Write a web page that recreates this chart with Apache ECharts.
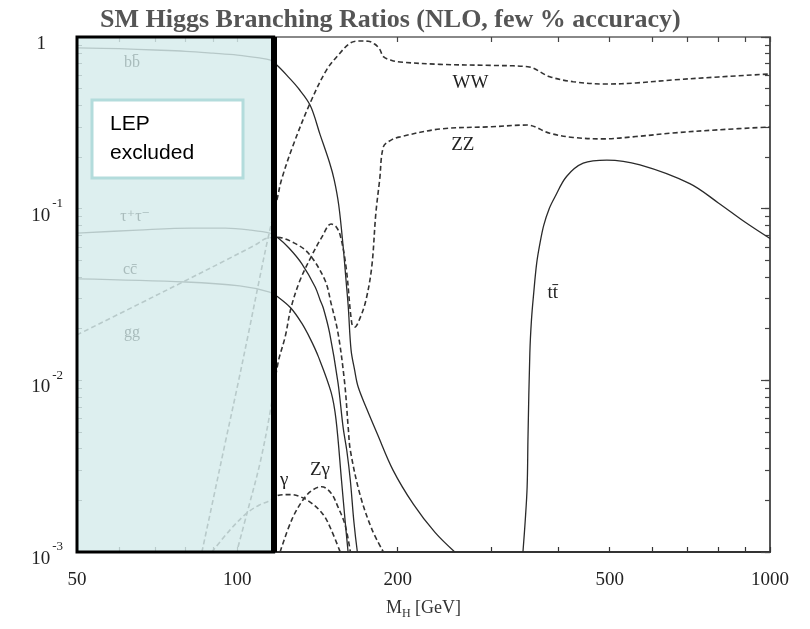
<!DOCTYPE html>
<html><head><meta charset="utf-8">
<script src="https://cdn.jsdelivr.net/npm/echarts@6/dist/echarts.min.js"></script>
<style>html,body{margin:0;padding:0;background:#fff}#c{width:810px;height:629px}</style>
</head><body><div id="c"></div>
<script>
// ---- data: Higgs mass (GeV) and branching ratios ----
const bbMass = [50, 60, 70, 80, 90, 100, 110, 115, 119, 125, 130, 137, 143, 149, 152, 155, 158, 160, 161.5, 163.5, 166, 168.5, 175, 183, 196, 214, 235, 256];
const bbBR   = [0.865, 0.855, 0.84, 0.825, 0.805, 0.785, 0.755, 0.735, 0.68, 0.58, 0.505, 0.40, 0.27, 0.185, 0.147, 0.105, 0.060, 0.038, 0.027, 0.015, 0.0115, 0.0092, 0.0068, 0.0049, 0.003, 0.0019, 0.0013, 0.001];

const tauMass = [50, 65, 82, 95, 106, 115, 119, 125, 132, 140, 143, 145, 149, 154.5, 158, 160.5, 163, 165.5, 168];
const tauBR   = [0.072, 0.075, 0.077, 0.077, 0.075, 0.072, 0.068, 0.059, 0.048, 0.035, 0.0294, 0.0264, 0.0189, 0.0097, 0.0053, 0.0039, 0.0026, 0.0015, 0.001];

const ccMass = [50, 80, 101, 115, 119, 126, 132, 137, 142, 150, 153.2, 156.9, 159.4, 161.4];
const ccBR   = [0.039, 0.0374, 0.0355, 0.0327, 0.0307, 0.0264, 0.0216, 0.0175, 0.0137, 0.0085, 0.0059, 0.0026, 0.0015, 0.001];

const ggMass = [50, 65, 79, 95, 108, 114, 119, 128, 136, 146, 150, 154.5, 159, 161.5, 163, 170, 179, 188];
const ggBR   = [0.0184, 0.0276, 0.0374, 0.050, 0.0614, 0.0675, 0.068, 0.063, 0.055, 0.0384, 0.028, 0.0189, 0.0097, 0.0053, 0.0039, 0.00215, 0.00135, 0.001];

const wwMass = [85.8, 90, 95, 100.3, 105, 110, 114.2, 119, 121, 127, 137, 147, 155, 163, 170, 176, 181, 185, 188, 195, 202, 240, 300, 351, 386, 427, 494, 560, 657, 800, 1000];
const wwBR   = [0.001, 0.002, 0.0044, 0.0096, 0.019, 0.0387, 0.0675, 0.117, 0.147, 0.23, 0.413, 0.642, 0.79, 0.923, 0.948, 0.945, 0.91, 0.85, 0.768, 0.73, 0.715, 0.693, 0.683, 0.671, 0.587, 0.549, 0.532, 0.54, 0.562, 0.585, 0.609];

const zzMass = [100.3, 104.3, 110.3, 115.2, 119.2, 123, 126.1, 131, 137.5, 144, 150, 153, 156, 160, 164, 166, 170, 174.4, 178.8, 182, 185, 188, 194, 202, 240, 300, 350, 386, 427, 486, 560, 657, 800, 1000];
const zzBR   = [0.00107, 0.00169, 0.0033, 0.0065, 0.0126, 0.018, 0.0264, 0.038, 0.0523, 0.068, 0.0814, 0.079, 0.070, 0.0457, 0.0215, 0.0204, 0.0231, 0.0294, 0.0459, 0.0944, 0.147, 0.229, 0.25, 0.262, 0.291, 0.30, 0.307, 0.275, 0.26, 0.255, 0.263, 0.276, 0.288, 0.299];

const ttMass = [343.7, 347, 350, 351.3, 354.1, 356.6, 360, 364.7, 370, 376, 385, 394.6, 415, 446, 494, 570, 707, 800, 900, 1000];
const ttBR   = [0.001, 0.0015, 0.0024, 0.0047, 0.0144, 0.0225, 0.032, 0.048, 0.063, 0.08, 0.1, 0.117, 0.154, 0.184, 0.192, 0.18, 0.14, 0.108, 0.083, 0.067];

const gamMass = [89.6, 97, 104.3, 110, 114.2, 120.3, 126, 131.7, 138, 145, 150, 156];
const gamBR   = [0.001, 0.00135, 0.00169, 0.00188, 0.00197, 0.00215, 0.00216, 0.00209, 0.00192, 0.00165, 0.00135, 0.001];

const zgMass = [120.3, 126.5, 132.8, 138, 144, 150, 154.5, 159.3, 163];
const zgBR   = [0.001, 0.00154, 0.00201, 0.00228, 0.0024, 0.0022, 0.00183, 0.00144, 0.001];

const lepRange = [50, 117];

// tick values
const xTickValues  = [50, 60, 70, 80, 90, 100, 200, 300, 400, 500, 600, 700, 800, 900, 1000];
const xLabelValues = [50, 100, 200, 500, 1000];
const yMajorValues = [0.001, 0.01, 0.1, 1];
const yMinorMult   = [2, 3, 4, 5, 6, 7, 8, 9];

// curve labels: [text, mass, BR]
const curveLabels = [
  ['WW', 274, 0.54], ['ZZ', 265, 0.235], ['tt\u0304', 391, 0.0323],
  ['\u03B3', 122.4, 0.00263], ['Z\u03B3', 142.9, 0.003]
];
const lepLabels = [
  ['bb\u0304', 63.4, 0.706], ['\u03C4\u207A\u03C4\u207B', 64.3, 0.0895],
  ['cc\u0304', 62.9, 0.044], ['gg', 63.4, 0.0189]
];

const zip = (a, b) => a.map((v, i) => [v, b[i]]);
const yMinorValues = [];
[0.001, 0.01, 0.1].forEach(d => yMinorMult.forEach(m => yMinorValues.push(+(d * m).toPrecision(3))));
const yAllTicks = yMinorValues.concat(yMajorValues);

const SERIF = '"Liberation Serif","Times New Roman","DejaVu Serif",serif';
const solid = {color: '#2a2a2a', width: 1.3, type: 'solid'};
const dashed = {color: '#333', width: 1.6, type: [5, 3]};

function line(name, mass, br, style) {
  return {
    name, type: 'line', data: zip(mass, br), showSymbol: false, symbol: 'none',
    smooth: 0.35, lineStyle: style, z: 2, silent: true,
    xAxisIndex: 0, yAxisIndex: 0, clip: true
  };
}

const chart = echarts.init(document.getElementById('c'), null, {renderer: 'canvas'});

function yLabel(v) {
  const e = Math.round(Math.log10(v));
  if (e === 0) return '{b|1}{p|}';
  return '{b|10}{s|' + e + '}';
}

const yRich = {
  b: {fontFamily: SERIF, fontSize: 19, color: '#222', padding: [14, 0, 0, 0]},
  s: {fontFamily: SERIF, fontSize: 13, color: '#222', padding: [0, 0, 10, 2]},
  p: {width: 17}
};

const baseX = {
  type: 'log', logBase: 10, min: 50, max: 1000,
  splitLine: {show: false}, minorTick: {show: false}
};
const baseY = {
  type: 'log', logBase: 10, min: 0.001, max: 1,
  splitLine: {show: false}, minorTick: {show: false}
};

chart.setOption({
  animation: false,
  backgroundColor: '#fff',
  title: {
    text: 'SM Higgs Branching Ratios (NLO, few % accuracy)',
    left: 95, top: 2,
    textStyle: {fontFamily: SERIF, fontWeight: 'bold', fontSize: 26, color: '#555'}
  },
  grid: {left: 77, right: 40, top: 37, bottom: 77, containLabel: false},
  xAxis: [
    Object.assign({}, baseX, {
      position: 'bottom',
      axisLine: {show: true, lineStyle: {color: '#333', width: 2}},
      axisTick: {show: true, inside: true, length: 5, customValues: xTickValues, lineStyle: {color: '#333', width: 1.2}},
      axisLabel: {show: true, customValues: xLabelValues, formatter: v => String(Math.round(v)),
        fontFamily: SERIF, fontSize: 19, color: '#222', margin: 19},
      name: '{a|M}{sub|H}{a| [GeV]}', nameLocation: 'middle', nameGap: 44,
      nameTextStyle: {rich: {
        a: {fontFamily: SERIF, fontSize: 18, color: '#333'},
        sub: {fontFamily: SERIF, fontSize: 12, color: '#333', padding: [12, 0, 0, 0]}
      }}
    }),
    Object.assign({}, baseX, {
      position: 'top',
      axisLine: {show: true, lineStyle: {color: '#888', width: 2}},
      axisTick: {show: true, inside: true, length: 5, customValues: xTickValues, lineStyle: {color: '#444', width: 1.2}},
      axisLabel: {show: false}
    })
  ],
  yAxis: [
    Object.assign({}, baseY, {
      position: 'left',
      axisLine: {show: true, lineStyle: {color: '#333', width: 2}},
      axisTick: {show: true, inside: true, length: 5, customValues: yAllTicks, lineStyle: {color: '#444'}},
      axisLabel: {show: true, customValues: yMajorValues, formatter: yLabel, rich: yRich, margin: 14}
    }),
    Object.assign({}, baseY, {
      position: 'right',
      axisLine: {show: true, lineStyle: {color: '#555', width: 2}},
      axisTick: {show: true, inside: true, length: 5, customValues: yAllTicks, lineStyle: {color: '#444', width: 1.2}},
      axisLabel: {show: false}
    }),
    Object.assign({}, baseY, {
      position: 'right',
      axisLine: {show: false},
      axisTick: {show: true, inside: true, length: 9, customValues: yMajorValues, lineStyle: {color: '#444', width: 1.2}},
      axisLabel: {show: false}
    })
  ],
  series: [
    line('bb', bbMass, bbBR, solid),
    line('tautau', tauMass, tauBR, solid),
    line('cc', ccMass, ccBR, solid),
    line('gg', ggMass, ggBR, dashed),
    line('WW', wwMass, wwBR, dashed),
    line('ZZ', zzMass, zzBR, dashed),
    line('tt', ttMass, ttBR, solid),
    line('gamgam', gamMass, gamBR, dashed),
    line('Zgam', zgMass, zgBR, dashed),
    {
      name: 'LEP', type: 'line', data: [], z: 6, silent: true,
      markArea: {
        silent: true, z: 10,
        itemStyle: {color: 'rgba(214,236,236,0.82)', borderColor: '#000', borderWidth: 3},
        data: [[{xAxis: lepRange[0]}, {xAxis: lepRange[1]}]]
      },
      markLine: {
        silent: true, z: 11, symbol: ['none', 'none'], label: {show: false},
        lineStyle: {color: '#000', width: 6, type: 'solid'},
        data: [{xAxis: lepRange[1]}]
      }
    }
  ]
});

const gr = [];
curveLabels.forEach(([t, m, b]) => {
  const p = chart.convertToPixel({xAxisIndex: 0, yAxisIndex: 0}, [m, b]);
  gr.push({type: 'text', x: p[0], y: p[1], z: 20,
    style: {text: t, font: '19px ' + SERIF, fill: '#222', align: 'center', verticalAlign: 'middle'}});
});
lepLabels.forEach(([t, m, b]) => {
  const p = chart.convertToPixel({xAxisIndex: 0, yAxisIndex: 0}, [m, b]);
  gr.push({type: 'text', x: p[0], y: p[1], z: 20,
    style: {text: t, font: '16px ' + SERIF, fill: '#a9bcbc', align: 'center', verticalAlign: 'middle'}});
});
// LEP excluded note box
gr.push({type: 'rect', z: 30, shape: {x: 92, y: 100, width: 151, height: 78},
  style: {fill: '#fff', stroke: '#b3dcdc', lineWidth: 3}});
gr.push({type: 'text', z: 31, x: 110, y: 124,
  style: {text: 'LEP', font: '21px "Liberation Sans", Arial, sans-serif', fill: '#000', verticalAlign: 'middle'}});
gr.push({type: 'text', z: 31, x: 110, y: 153,
  style: {text: 'excluded', font: '21px "Liberation Sans", Arial, sans-serif', fill: '#000', verticalAlign: 'middle'}});
chart.setOption({graphic: gr});
</script></body></html>
